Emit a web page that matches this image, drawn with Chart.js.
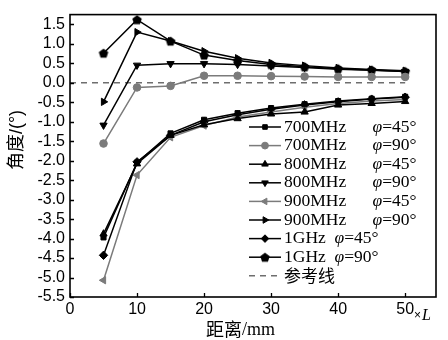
<!DOCTYPE html>
<html>
<head>
<meta charset="utf-8">
<script src="https://cdn.jsdelivr.net/npm/chart.js@4/dist/chart.umd.min.js"></script>
<style>
  html, body { margin: 0; padding: 0; background: #fff; }
  #wrap { width: 448px; height: 340px; }
</style>
</head>
<body>
<div id="wrap"><canvas id="c" width="448" height="340"></canvas></div>
<script>
// Distance along the line (×L) and measured angle error (°) per configuration
const distances = [5, 10, 15, 20, 25, 30, 35, 40, 45, 50];
const f700phi45 = [-3.97, -2.05, -1.30, -0.95, -0.78, -0.65, -0.55, -0.47, -0.41, -0.36];
const f700phi90 = [-1.56, -0.12, -0.08, 0.18, 0.18, 0.17, 0.16, 0.15, 0.15, 0.15];
const f800phi45 = [-3.88, -2.08, -1.35, -1.08, -0.92, -0.80, -0.75, -0.57, -0.53, -0.48];
const f800phi90 = [-1.09, 0.45, 0.49, 0.49, 0.47, 0.43, 0.39, 0.35, 0.32, 0.29];
const f900phi45 = [-5.07, -2.37, -1.40, -1.10, -0.88, -0.75, -0.63, -0.53, -0.47, -0.43];
const f900phi90 = [-0.49, 1.30, 1.07, 0.81, 0.63, 0.51, 0.44, 0.38, 0.34, 0.31];
const f1000phi45 = [-4.43, -2.03, -1.35, -1.00, -0.82, -0.68, -0.57, -0.49, -0.42, -0.37];
const f1000phi90 = [0.76, 1.62, 1.07, 0.71, 0.57, 0.47, 0.41, 0.36, 0.33, 0.29];
const referenceX = [0, 50];
const referenceY = [0, 0];

const seriesLabels = [
  '700MHz      φ=45°', '700MHz      φ=90°',
  '800MHz      φ=45°', '800MHz      φ=90°',
  '900MHz      φ=45°', '900MHz      φ=90°',
  '1GHz  φ=45°', '1GHz  φ=90°', '参考线'
];
const xTickValues = [0, 10, 20, 30, 40, 50];
const yTickValues = [-5.5, -5, -4.5, -4, -3.5, -3, -2.5, -2, -1.5, -1, -0.5, 0, 0.5, 1, 1.5];

const BLACK = '#000000';
const GREY = '#7b7b7b';

// filled pentagon marker
function pentagonMarker(r) {
  const size = Math.ceil(r * 2 + 2);
  const cv = document.createElement('canvas');
  cv.width = size; cv.height = size;
  const g = cv.getContext('2d');
  g.fillStyle = BLACK;
  g.beginPath();
  for (let i = 0; i < 5; i++) {
    const a = -Math.PI / 2 + i * 2 * Math.PI / 5;
    const px = size / 2 + r * Math.cos(a);
    const py = size / 2 + 0.5 + r * Math.sin(a);
    if (i === 0) g.moveTo(px, py); else g.lineTo(px, py);
  }
  g.closePath();
  g.fill();
  return cv;
}
const pentagon = pentagonMarker(5);

function pts(ys, xs) {
  return (xs || distances).map((x, i) => ({ x: x, y: ys[i] }));
}

function series(label, ys, color, style, rotation, radius) {
  return {
    label: label,
    data: pts(ys),
    showLine: true,
    borderColor: color,
    backgroundColor: color,
    borderWidth: 1.5,
    pointStyle: style,
    rotation: rotation || 0,
    pointRadius: radius || 4,
    pointHoverRadius: radius || 4,
    pointBorderWidth: 1,
    pointBorderColor: color,
    pointBackgroundColor: color,
    tension: 0
  };
}

const datasets = [
  series(seriesLabels[0], f700phi45, BLACK, 'rect', 0, 3.6),
  series(seriesLabels[1], f700phi90, GREY, 'circle', 0, 3.8),
  series(seriesLabels[2], f800phi45, BLACK, 'triangle', 0, 4.2),
  series(seriesLabels[3], f800phi90, BLACK, 'triangle', 180, 4.2),
  series(seriesLabels[4], f900phi45, GREY, 'triangle', 270, 4.2),
  series(seriesLabels[5], f900phi90, BLACK, 'triangle', 90, 4.2),
  series(seriesLabels[6], f1000phi45, BLACK, 'rectRot', 0, 4.2),
  series(seriesLabels[7], f1000phi90, BLACK, pentagon, 0, 5),
  {
    label: seriesLabels[8],
    data: pts(referenceY, referenceX),
    showLine: true,
    borderColor: '#6e6e6e',
    borderWidth: 1.5,
    borderDash: [6, 5],
    pointRadius: 0,
    pointHoverRadius: 0
  }
];

// frame, inward ticks, axis titles and legend drawn over the plot
const decorations = {
  id: 'decorations',
  afterDraw(chart) {
    const ctx = chart.ctx;
    const area = chart.chartArea;
    const xs = chart.scales.x, ys = chart.scales.y;
    ctx.save();

    // frame
    ctx.strokeStyle = BLACK;
    ctx.lineWidth = 1.6;
    ctx.strokeRect(area.left, area.top, area.right - area.left, area.bottom - area.top);

    // inward tick marks
    ctx.lineWidth = 1.3;
    ctx.beginPath();
    xs.ticks.forEach(t => {
      const px = Math.round(xs.getPixelForValue(t.value)) + 0.5;
      ctx.moveTo(px, area.bottom);
      ctx.lineTo(px, area.bottom - 4);
    });
    ys.ticks.forEach(t => {
      const py = Math.round(ys.getPixelForValue(t.value)) + 0.5;
      ctx.moveTo(area.left, py);
      ctx.lineTo(area.left + 4, py);
    });
    ctx.stroke();

    // x-axis unit suffix
    ctx.fillStyle = BLACK;
    ctx.textBaseline = 'alphabetic';
    ctx.textAlign = 'left';
    ctx.font = '12px "Liberation Sans"';
    ctx.fillText('×', 414, 319);
    ctx.font = 'italic 16px "Liberation Serif"';
    ctx.fillText('L', 422, 320);

    // x-axis title
    ctx.font = '18px "Noto Sans CJK SC"';
    ctx.textBaseline = 'middle';
    let tx = 206;
    ctx.fillText('距离', tx, 329);
    tx += ctx.measureText('距离').width;
    ctx.font = '18px "Liberation Serif"';
    ctx.fillText('/mm', tx, 330);

    // y-axis title
    ctx.save();
    ctx.translate(17, 140);
    ctx.rotate(-Math.PI / 2);
    ctx.textAlign = 'center';
    ctx.textBaseline = 'middle';
    ctx.font = '18px "Liberation Sans", "Noto Sans CJK SC"';
    ctx.fillText('角度/(°)', 0, 0);
    ctx.restore();

    // legend
    const lx0 = 249, lx1 = 281, textX = 284, rowY0 = 127, rowStep = 18.6;
    chart.data.datasets.forEach((ds, i) => {
      const y = rowY0 + i * rowStep;
      ctx.save();
      ctx.strokeStyle = ds.borderColor;
      ctx.lineWidth = 1.5;
      ctx.setLineDash(ds.borderDash || []);
      ctx.beginPath();
      ctx.moveTo(lx0, y);
      ctx.lineTo(lx1, y);
      ctx.stroke();
      ctx.restore();
      if (ds.pointRadius > 0) {
        ctx.save();
        ctx.fillStyle = ds.pointBackgroundColor;
        ctx.strokeStyle = ds.pointBorderColor;
        ctx.lineWidth = 1;
        Chart.helpers.drawPoint(ctx, {
          pointStyle: ds.pointStyle,
          rotation: ds.rotation,
          radius: ds.pointRadius * 0.9,
          borderWidth: 1
        }, (lx0 + lx1) / 2, y);
        ctx.restore();
      }
      ctx.fillStyle = BLACK;
      ctx.textAlign = 'left';
      ctx.textBaseline = 'middle';
      const label = ds.label;
      const k = label.indexOf('φ');
      if (k < 0) {
        ctx.font = '17px "Noto Sans CJK SC"';
        ctx.fillText(label, textX, y);
      } else {
        let x = textX;
        const pre = label.slice(0, k), post = label.slice(k + 1);
        ctx.font = '17.5px "Liberation Serif"';
        ctx.fillText(pre, x, y);
        x += ctx.measureText(pre).width;
        ctx.font = 'italic 17.5px "Liberation Serif"';
        ctx.fillText('φ', x, y);
        x += ctx.measureText('φ').width;
        ctx.font = '17.5px "Liberation Serif"';
        ctx.fillText(post, x, y);
      }
    });
    ctx.restore();
  }
};

new Chart(document.getElementById('c'), {
  type: 'scatter',
  data: { datasets: datasets },
  plugins: [decorations],
  options: {
    responsive: false,
    animation: false,
    devicePixelRatio: 1,
    layout: { padding: { left: 0, top: 7, right: 12, bottom: 0 } },
    plugins: { legend: { display: false }, tooltip: { enabled: false } },
    scales: {
      x: {
        type: 'linear',
        min: 0,
        max: 54.6,
        afterBuildTicks(scale) { scale.ticks = xTickValues.map(v => ({ value: v })); },
        afterFit(scale) { scale.height = 43; },
        grid: { display: false, drawTicks: false },
        border: { display: false },
        ticks: {
          color: BLACK,
          padding: 3,
          maxRotation: 0,
          autoSkip: false,
          font: { family: '"Liberation Sans"', size: 16 },
          callback: v => String(v)
        }
      },
      y: {
        type: 'linear',
        min: -5.5,
        max: 1.75,
        afterBuildTicks(scale) { scale.ticks = yTickValues.map(v => ({ value: v })); },
        afterFit(scale) { scale.width = 70; },
        grid: { display: false, drawTicks: false },
        border: { display: false },
        ticks: {
          color: BLACK,
          padding: 5,
          autoSkip: false,
          font: { family: '"Liberation Sans"', size: 16 },
          callback: v => Number(v).toFixed(1)
        }
      }
    }
  }
});
</script>
</body>
</html>
